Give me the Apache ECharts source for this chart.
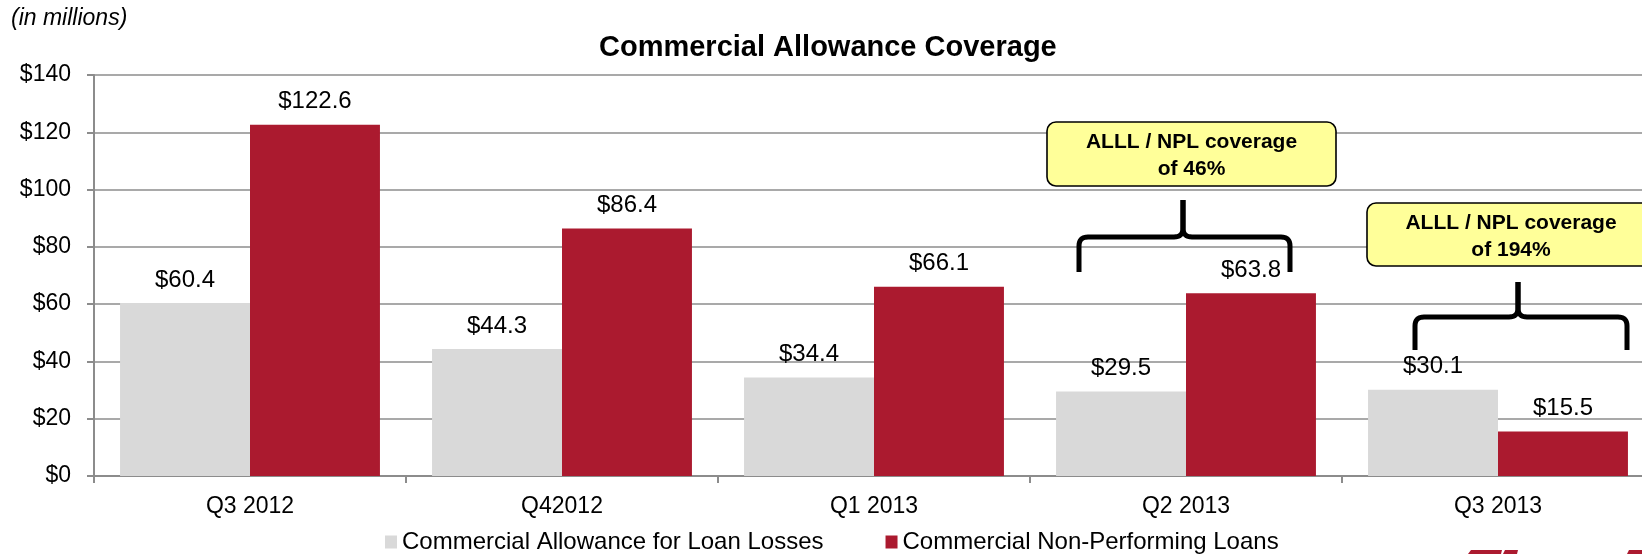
<!DOCTYPE html>
<html>
<head>
<meta charset="utf-8">
<script src="https://cdn.jsdelivr.net/npm/echarts@6/dist/echarts.min.js"></script>
<style>
  html, body { margin: 0; padding: 0; background: #fff; }
  #chart { width: 1642px; height: 554px; }
</style>
</head>
<body>
<div id="chart"></div>
<script>
// Quarterly commercial allowance vs. non-performing loans ($ millions)
const categories = ['Q3 2012', 'Q42012', 'Q1 2013', 'Q2 2013', 'Q3 2013'];
const allowance = [60.4, 44.3, 34.4, 29.5, 30.1];
const nonPerforming = [122.6, 86.4, 66.1, 63.8, 15.5];
const seriesNames = ['Commercial Allowance for Loan Losses', 'Commercial Non-Performing Loans'];
const yTicks = [0, 20, 40, 60, 80, 100, 120, 140];
const callouts = [
  ['ALLL / NPL coverage', 'of 46%'],
  ['ALLL / NPL coverage', 'of 194%']
];

const FONT = '"Liberation Sans", Arial, sans-serif';
const GRAY = '#D9D9D9';
const RED = '#AB1A2F';
const GRID_LINE = '#8C8C8C';

// Sample a quadratic curve p0 -> p2 with control point c into polyline points
function quad(p0, c, p2, n) {
  const pts = [];
  for (let i = 0; i <= n; i++) {
    const t = i / n, u = 1 - t;
    pts.push([u * u * p0[0] + 2 * u * t * c[0] + t * t * p2[0],
              u * u * p0[1] + 2 * u * t * c[1] + t * t * p2[1]]);
  }
  return pts;
}

// One half of a curly brace: leg down at the outer end, peak up at the centre
function braceHalf(outer, cx, top, h, bottom) {
  const r = 9, dir = cx > outer ? 1 : -1;
  return [[outer, bottom]]
    .concat(quad([outer, h + r], [outer, h], [outer + dir * r, h], 8))
    .concat(quad([cx - dir * r, h], [cx, h], [cx, h - r], 8))
    .concat([[cx, top]]);
}

function callout(box, lines, brace) {
  const cx = box.x + box.w / 2;
  const lineStyle = { fill: null, stroke: '#000', lineWidth: 5, lineJoin: 'round' };
  return [
    {
      type: 'rect', z: 100,
      shape: { x: box.x, y: box.y, width: box.w, height: box.h, r: 9 },
      style: { fill: '#FFFF99', stroke: '#000', lineWidth: 1.6 }
    },
    {
      type: 'text', z: 101,
      style: { text: lines[0], x: cx, y: box.y + 20, align: 'center', verticalAlign: 'middle',
               font: 'bold 21px ' + FONT, fill: '#000' }
    },
    {
      type: 'text', z: 101,
      style: { text: lines[1], x: cx, y: box.y + 47, align: 'center', verticalAlign: 'middle',
               font: 'bold 21px ' + FONT, fill: '#000' }
    },
    {
      type: 'polyline', z: 100,
      shape: { points: braceHalf(brace.l, brace.c, brace.top, brace.h, brace.bottom) },
      style: lineStyle
    },
    {
      type: 'polyline', z: 100,
      shape: { points: braceHalf(brace.r, brace.c, brace.top, brace.h, brace.bottom) },
      style: lineStyle
    }
  ];
}

const chart = echarts.init(document.getElementById('chart'), null, { renderer: 'canvas' });

const valueLabel = {
  show: true,
  position: 'top',
  distance: 11,
  fontFamily: FONT,
  fontSize: 24,
  color: '#000',
  formatter: p => '$' + p.value.toFixed(1)
};

chart.setOption({
  backgroundColor: '#fff',
  animation: false,
  title: [
    {
      text: 'Commercial Allowance Coverage',
      left: 599, top: 33, padding: 0,
      textStyle: { fontFamily: FONT, fontSize: 29, fontWeight: 'bold', color: '#000' }
    },
    {
      text: '(in millions)',
      left: 11, top: 7, padding: 0,
      textStyle: { fontFamily: FONT, fontSize: 23, fontStyle: 'italic', fontWeight: 'normal', color: '#000' }
    }
  ],
  legend: {
    data: seriesNames,
    left: 385, top: 530, padding: 0,
    itemWidth: 12, itemHeight: 13, itemGap: 62,
    icon: 'rect',
    textStyle: { fontFamily: FONT, fontSize: 24, color: '#000' }
  },
  grid: {
    left: 94, top: 75, width: 1560, height: 401,
    containLabel: false,
    outerBoundsMode: 'none'
  },
  xAxis: {
    type: 'category',
    data: categories,
    axisLine: { lineStyle: { color: GRID_LINE, width: 2 } },
    axisTick: { show: true, length: 7, lineStyle: { color: GRID_LINE, width: 2 } },
    axisLabel: { margin: 19, fontFamily: FONT, fontSize: 23, color: '#000' }
  },
  yAxis: {
    type: 'value',
    min: yTicks[0], max: yTicks[yTicks.length - 1], interval: yTicks[1] - yTicks[0],
    axisLine: { show: true, lineStyle: { color: GRID_LINE, width: 2 } },
    axisTick: { show: true, length: 7, lineStyle: { color: GRID_LINE, width: 2 } },
    splitLine: { lineStyle: { color: GRID_LINE, width: 1.5 } },
    axisLabel: { margin: 23, fontFamily: FONT, fontSize: 23, color: '#000', formatter: v => '$' + v }
  },
  series: [
    {
      name: seriesNames[0], type: 'bar', data: allowance,
      barGap: 0, barCategoryGap: '16.7%',
      itemStyle: { color: GRAY },
      label: valueLabel
    },
    {
      name: seriesNames[1], type: 'bar', data: nonPerforming,
      barGap: 0, barCategoryGap: '16.7%',
      itemStyle: { color: RED },
      label: valueLabel
    }
  ],
  graphic: [].concat(
    callout({ x: 1047, y: 122, w: 289, h: 64 }, callouts[0],
            { l: 1079, r: 1290, c: 1183, top: 200, h: 237, bottom: 272 }),
    callout({ x: 1367, y: 203, w: 288, h: 63 }, callouts[1],
            { l: 1415, r: 1627, c: 1518, top: 282, h: 317, bottom: 350 }),
    [
      // edge of the corporate mark at the bottom right
      { type: 'polygon', shape: { points: [[1471, 550], [1502, 550], [1501, 554], [1468, 554]] }, style: { fill: RED } },
      { type: 'polygon', shape: { points: [[1505, 550], [1518, 550], [1517, 554], [1503, 554]] }, style: { fill: RED } },
      { type: 'polygon', shape: { points: [[1629, 550], [1642, 550], [1642, 554], [1627, 554]] }, style: { fill: RED } }
    ]
  )
});
</script>
</body>
</html>
